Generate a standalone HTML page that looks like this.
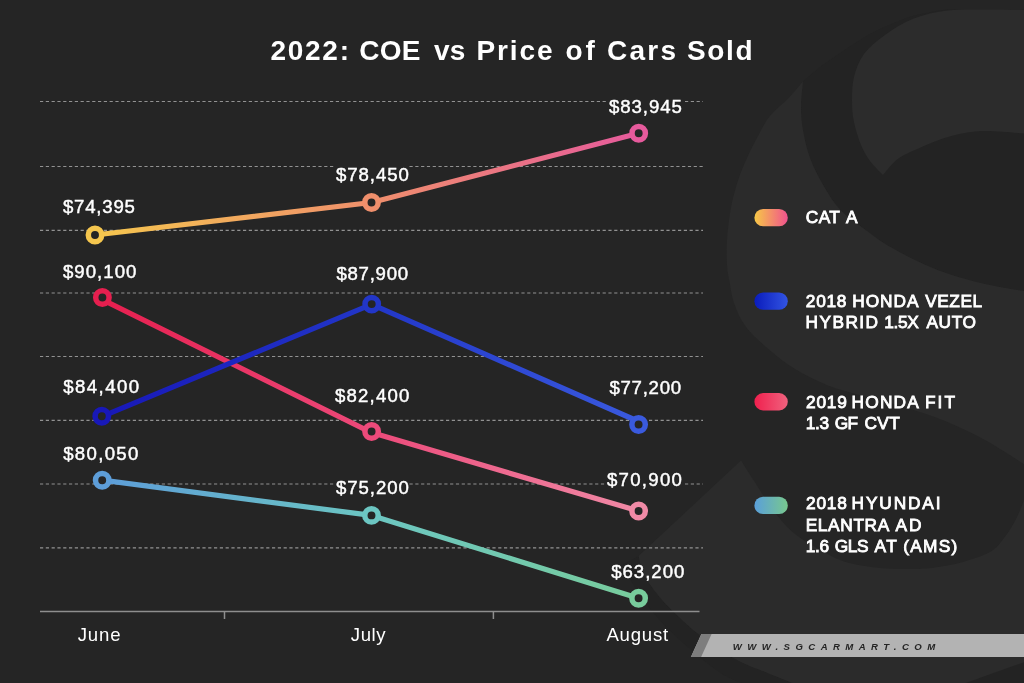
<!DOCTYPE html>
<html lang="en">
<head>
<meta charset="utf-8">
<title>2022: COE vs Price of Cars Sold</title>
<style>
html,body{margin:0;padding:0;background:#252525;}
body{width:1024px;height:683px;overflow:hidden;position:relative;font-family:"Liberation Sans",sans-serif;}
svg{position:absolute;left:0;top:0;display:block;}
text{font-family:"Liberation Sans",sans-serif;fill:#fff;}
.title{font-weight:bold;font-size:28px;}
.val{font-size:18.6px;stroke:#fff;stroke-width:0.45px;}
.ax{font-size:18.6px;}
.lg{font-size:17.3px;stroke:#fff;stroke-width:0.85px;}
.ft{font-style:italic;font-weight:bold;font-size:9.6px;fill:#242424;}
</style>
</head>
<body>
<svg width="1024" height="683" viewBox="0 0 1024 683">
<defs>

<linearGradient id="ga" gradientUnits="userSpaceOnUse" x1="95" y1="0" x2="638.7" y2="0"><stop offset="0" stop-color="#f5c64e"/><stop offset="50.9%" stop-color="#ef8f6c"/><stop offset="1" stop-color="#e65a9c"/></linearGradient>
<linearGradient id="gv" gradientUnits="userSpaceOnUse" x1="101.8" y1="0" x2="638.6" y2="0"><stop offset="0" stop-color="#1818b8"/><stop offset="50.3%" stop-color="#2236c8"/><stop offset="1" stop-color="#3a5ade"/></linearGradient>
<linearGradient id="gf" gradientUnits="userSpaceOnUse" x1="102.4" y1="0" x2="638.6" y2="0"><stop offset="0" stop-color="#e61f4f"/><stop offset="50.2%" stop-color="#ec4a7a"/><stop offset="1" stop-color="#f08aa6"/></linearGradient>
<linearGradient id="ge" gradientUnits="userSpaceOnUse" x1="102.2" y1="0" x2="638.6" y2="0"><stop offset="0" stop-color="#5d9dd8"/><stop offset="50.2%" stop-color="#6cc6c2"/><stop offset="1" stop-color="#78cc9c"/></linearGradient>
<linearGradient id="pa" x1="0" y1="0" x2="1" y2="0"><stop offset="0" stop-color="#f7c846"/><stop offset="1" stop-color="#f0528e"/></linearGradient>
<linearGradient id="pv" x1="0" y1="0" x2="1" y2="0"><stop offset="0" stop-color="#0a1cbc"/><stop offset="1" stop-color="#3254e2"/></linearGradient>
<linearGradient id="pf" x1="0" y1="0" x2="1" y2="0"><stop offset="0" stop-color="#f0204e"/><stop offset="1" stop-color="#f0627e"/></linearGradient>
<linearGradient id="pe" x1="0" y1="0" x2="1" y2="0"><stop offset="0" stop-color="#5a9fda"/><stop offset="1" stop-color="#78c88e"/></linearGradient>
</defs>
<rect width="1024" height="683" fill="#252525"/>
<path d="M803.0,81.5 C805.8,79.1 813.8,71.8 820.0,67.0 C826.2,62.2 833.3,57.5 840.0,53.0 C846.7,48.5 853.3,44.0 860.0,40.0 C866.7,36.0 871.2,33.0 880.0,29.0 C888.8,25.0 901.7,19.3 913.0,16.0 C924.3,12.7 942.2,10.2 948.0,9.0 L1030,9 L1030,292 C1022.5,290.7 999.0,287.2 985.0,284.0 C971.0,280.8 957.7,277.0 946.0,273.0 C934.3,269.0 924.8,264.7 915.0,260.0 C905.2,255.3 895.7,250.3 887.0,245.0 C878.3,239.7 870.8,233.8 863.0,228.0 C855.2,222.2 847.0,216.9 840.5,210.0 C834.0,203.1 829.1,195.2 824.0,186.5 C818.9,177.8 813.5,167.4 810.0,158.0 C806.5,148.6 804.5,138.5 803.0,130.0 C801.5,121.5 801.0,115.1 801.0,107.0 C801.0,98.9 802.7,85.8 803.0,81.5 Z" fill="#232323"/>
<path d="M638.6,556.0 L622.0,565.0 C624.7,569.5 632.2,583.3 638.0,592.0 C643.8,600.7 649.1,608.2 657.0,617.0 C664.9,625.8 674.9,635.7 685.5,645.0 C696.1,654.3 710.9,666.5 720.6,673.0 C730.4,679.5 740.1,682.2 744.0,684.0 L795.0,684.0 C790.4,682.2 776.0,676.4 767.5,673.0 C759.0,669.6 751.9,667.4 744.0,663.6 C736.1,659.8 727.8,655.1 720.0,650.0 C712.2,644.9 703.5,638.2 697.0,633.0 C690.5,627.8 686.8,624.5 681.0,619.0 C675.2,613.5 667.5,606.2 662.0,600.0 C656.5,593.8 651.3,586.6 648.0,581.6 C644.7,576.6 643.6,574.3 642.0,570.0 C640.4,565.7 639.2,558.3 638.6,556.0 Z" fill="#232323"/>
<path d="M1030,645 L963,684 L1030,684 Z" fill="#232323"/>
<path d="M803.0,81.5 C800.7,84.2 794.5,91.8 789.0,97.5 C783.5,103.2 775.1,109.8 770.0,116.0 C764.9,122.2 762.3,128.0 758.5,135.0 C754.7,142.0 750.5,150.2 747.0,158.0 C743.5,165.8 740.2,173.3 737.5,182.0 C734.8,190.7 732.2,200.3 730.5,210.0 C728.8,219.7 727.6,230.8 727.0,240.0 C726.4,249.2 726.6,258.0 727.0,265.0 C727.4,272.0 728.4,275.7 729.6,282.0 C730.8,288.3 731.3,295.5 734.0,303.0 C736.7,310.5 740.1,319.2 746.0,327.0 C751.9,334.8 761.3,343.0 769.5,350.0 C777.7,357.0 785.2,363.1 795.0,369.0 C804.8,374.9 816.7,381.0 828.0,385.5 C839.3,390.0 850.3,392.4 863.0,396.0 C875.7,399.6 890.3,402.8 904.0,407.0 C917.7,411.2 931.5,415.5 945.0,421.0 C958.5,426.5 970.8,432.2 985.0,440.0 C999.2,447.8 1022.5,463.3 1030.0,468.0 L1030.0,292.0 C1022.5,290.7 999.0,287.2 985.0,284.0 C971.0,280.8 957.7,277.0 946.0,273.0 C934.3,269.0 924.8,264.7 915.0,260.0 C905.2,255.3 895.7,250.3 887.0,245.0 C878.3,239.7 870.8,233.8 863.0,228.0 C855.2,222.2 847.0,216.9 840.5,210.0 C834.0,203.1 829.1,195.2 824.0,186.5 C818.9,177.8 813.5,167.4 810.0,158.0 C806.5,148.6 804.5,138.5 803.0,130.0 C801.5,121.5 801.0,115.1 801.0,107.0 C801.0,98.9 802.7,85.8 803.0,81.5 Z" fill="#2b2b2b"/>
<path d="M1030.0,10.0 C1022.5,9.9 998.7,9.4 985.0,9.5 C971.3,9.6 960.0,9.0 948.0,10.5 C936.0,12.0 923.5,14.6 913.0,18.7 C902.5,22.8 893.2,29.1 885.0,35.0 C876.8,40.9 869.2,47.0 864.0,54.0 C858.8,61.0 856.0,69.2 854.0,77.0 C852.0,84.8 852.0,93.5 852.0,101.0 C852.0,108.5 852.5,114.7 854.0,122.0 C855.5,129.3 858.3,138.5 861.0,145.0 C863.7,151.5 866.3,156.0 870.0,161.0 C873.7,166.0 880.8,172.7 883.0,175.0 C885.2,172.5 891.2,164.2 896.5,160.0 C901.8,155.8 906.4,153.8 915.0,150.0 C923.6,146.2 936.7,140.2 948.0,137.0 C959.3,133.8 969.3,131.5 983.0,131.0 C996.7,130.5 1022.2,133.5 1030.0,134.0 Z" fill="#2c2c2c"/>
<path d="M741.0,460.5 L638.6,556.0 C639.2,558.3 640.4,565.7 642.0,570.0 C643.6,574.3 644.7,576.6 648.0,581.6 C651.3,586.6 656.5,593.8 662.0,600.0 C667.5,606.2 675.2,613.5 681.0,619.0 C686.8,624.5 690.5,627.8 697.0,633.0 C703.5,638.2 712.2,644.9 720.0,650.0 C727.8,655.1 736.1,659.8 744.0,663.6 C751.9,667.4 759.0,669.6 767.5,673.0 C776.0,676.4 790.4,682.2 795.0,684.0 L963,684 L1030,660 L1030.0,478.0 C1029.0,481.7 1026.5,492.8 1024.0,500.0 C1021.5,507.2 1018.3,514.7 1015.0,521.0 C1011.7,527.3 1008.2,532.8 1004.0,538.0 C999.8,543.2 997.2,547.9 990.0,552.0 C982.8,556.1 970.2,559.9 961.0,562.5 C951.8,565.1 943.2,566.4 935.0,567.5 C926.8,568.6 921.2,568.9 912.0,569.0 C902.8,569.1 891.3,569.2 880.0,568.0 C868.7,566.8 854.8,565.0 844.0,561.5 C833.2,558.0 823.8,552.1 815.0,547.0 C806.2,541.9 798.5,537.2 791.5,531.0 C784.5,524.8 778.9,517.8 773.0,510.0 C767.1,502.2 761.3,492.2 756.0,484.0 C750.7,475.8 743.5,464.4 741.0,460.5 Z" fill="#2b2b2b"/>
<g stroke="#929292" stroke-width="1.2" stroke-dasharray="3.2 2.6" fill="none">
<path d="M40,101.5 H607.5 M685,101.5 H703"/>
<path d="M40,166.5 H335.5 M409.5,166.5 H703"/>
<path d="M40,230.4 H703"/>
<path d="M40,293.0 H703"/>
<path d="M40,356.5 H703"/>
<path d="M40,420.4 H703"/>
<path d="M40,484.0 H335.5 M409.5,484.0 H605.5 M685,484.0 H703"/>
<path d="M40,547.8 H703"/>
</g>
<g stroke="#8e8e8e" stroke-width="1.5" fill="none"><path d="M40,611.4 H699.5 M224.5,611.4 V619 M493.4,611.4 V619"/></g>
<polyline points="95,235 371.5,202.5 638.7,133.2" fill="none" stroke="url(#ga)" stroke-width="5.2" stroke-linejoin="round"/>
<polyline points="102.3,299.6 371.5,432.6 638.6,511" fill="none" stroke="url(#gf)" stroke-width="5.2" stroke-linejoin="round"/>
<polyline points="101.7,416.6 371.6,304.3 638.6,421.5" fill="none" stroke="url(#gv)" stroke-width="5.2" stroke-linejoin="round"/>
<polyline points="102.2,480.2 371.5,515.4 638.6,598.3" fill="none" stroke="url(#ge)" stroke-width="5.2" stroke-linejoin="round"/>
<circle cx="95" cy="235" r="6.7" fill="#252525" stroke="#f5c64e" stroke-width="5.5"/>
<circle cx="371.5" cy="202.5" r="6.7" fill="#252525" stroke="#ef8f6c" stroke-width="5.5"/>
<circle cx="638.7" cy="133.2" r="6.7" fill="#252525" stroke="#e65a9c" stroke-width="5.5"/>
<circle cx="101.8" cy="416.2" r="6.7" fill="#252525" stroke="#1818b8" stroke-width="5.5"/>
<circle cx="371.7" cy="304.1" r="6.7" fill="#252525" stroke="#2236c8" stroke-width="5.5"/>
<circle cx="638.6" cy="424.5" r="6.7" fill="#252525" stroke="#3a5ade" stroke-width="5.5"/>
<circle cx="102.4" cy="297.5" r="6.7" fill="#252525" stroke="#e61f4f" stroke-width="5.5"/>
<circle cx="371.6" cy="431.5" r="6.7" fill="#252525" stroke="#ec4a7a" stroke-width="5.5"/>
<circle cx="638.6" cy="511" r="6.7" fill="#252525" stroke="#f08aa6" stroke-width="5.5"/>
<circle cx="102.2" cy="480.2" r="6.7" fill="#252525" stroke="#5d9dd8" stroke-width="5.5"/>
<circle cx="371.5" cy="515.4" r="6.7" fill="#252525" stroke="#6cc6c2" stroke-width="5.5"/>
<circle cx="638.6" cy="598.3" r="6.7" fill="#252525" stroke="#78cc9c" stroke-width="5.5"/>
<rect x="754.4" y="209.0" width="33.4" height="17.3" rx="8.65" fill="url(#pa)"/>
<rect x="754.4" y="292.5" width="33.4" height="17.3" rx="8.65" fill="url(#pv)"/>
<rect x="754.4" y="393.1" width="33.4" height="17.3" rx="8.65" fill="url(#pf)"/>
<rect x="754.4" y="496.8" width="33.4" height="17.3" rx="8.65" fill="url(#pe)"/>
<polygon points="701.4,634 1024,634 1024,657 690.9,657" fill="#b3b3b3"/>
<polygon points="701.4,634 711.6,634 701.1,657 690.9,657" fill="#7e7e7e"/>
<text class="title" y="59.90"><tspan x="270.40" style="letter-spacing:1.738px">2022:</tspan> <tspan x="359.21" style="letter-spacing:0.235px">COE</tspan> <tspan x="433.88" style="letter-spacing:0.178px">vs</tspan> <tspan x="476.40" style="letter-spacing:1.947px">Price</tspan> <tspan x="565.44" style="letter-spacing:3.037px">of</tspan> <tspan x="606.91" style="letter-spacing:2.262px">Cars</tspan> <tspan x="686.94" style="letter-spacing:1.691px">Sold</tspan></text>
<text class="val" x="62.90" y="212.70" style="letter-spacing:0.795px">$74,395</text>
<text class="val" x="335.90" y="180.70" style="letter-spacing:0.958px">$78,450</text>
<text class="val" x="608.90" y="112.50" style="letter-spacing:0.961px">$83,945</text>
<text class="val" x="62.90" y="277.70" style="letter-spacing:1.041px">$90,100</text>
<text class="val" x="336.40" y="280.20" style="letter-spacing:0.749px">$87,900</text>
<text class="val" x="609.40" y="393.70" style="letter-spacing:0.749px">$77,200</text>
<text class="val" x="63.15" y="393.00" style="letter-spacing:1.458px">$84,400</text>
<text class="val" x="334.90" y="401.70" style="letter-spacing:1.208px">$82,400</text>
<text class="val" x="606.90" y="485.70" style="letter-spacing:1.291px">$70,900</text>
<text class="val" x="63.15" y="459.50" style="letter-spacing:1.333px">$80,050</text>
<text class="val" x="335.90" y="494.20" style="letter-spacing:0.958px">$75,200</text>
<text class="val" x="611.15" y="577.70" style="letter-spacing:0.999px">$63,200</text>
<text class="ax" x="77.76" y="641.30" style="letter-spacing:0.827px">June</text>
<text class="ax" x="350.76" y="641.30" style="letter-spacing:0.601px">July</text>
<text class="ax" x="606.40" y="641.30" style="letter-spacing:0.799px">August</text>
<text class="lg" y="222.70"><tspan x="805.80" style="letter-spacing:0.351px">CAT</tspan> <tspan x="845.99" style="letter-spacing:0.000px">A</tspan></text>
<text class="lg" y="306.80"><tspan x="805.84" style="letter-spacing:0.729px">2018</tspan> <tspan x="852.24" style="letter-spacing:0.960px">HONDA</tspan> <tspan x="925.24" style="letter-spacing:0.523px">VEZEL</tspan></text>
<text class="lg" y="327.60"><tspan x="805.49" style="letter-spacing:1.464px">HYBRID</tspan> <tspan x="884.24" style="letter-spacing:-0.323px">1.5X</tspan> <tspan x="926.49" style="letter-spacing:0.595px">AUTO</tspan></text>
<text class="lg" y="407.60"><tspan x="806.04" style="letter-spacing:0.764px">2019</tspan> <tspan x="851.59" style="letter-spacing:1.198px">HONDA</tspan> <tspan x="924.99" style="letter-spacing:2.025px">FIT</tspan></text>
<text class="lg" y="428.80"><tspan x="805.69" style="letter-spacing:-0.310px">1.3</tspan> <tspan x="834.80" style="letter-spacing:-0.749px">GF</tspan> <tspan x="864.50" style="letter-spacing:0.322px">CVT</tspan></text>
<text class="lg" y="508.60"><tspan x="806.04" style="letter-spacing:0.763px">2018</tspan> <tspan x="851.59" style="letter-spacing:1.856px">HYUNDAI</tspan></text>
<text class="lg" y="530.70"><tspan x="805.69" style="letter-spacing:0.637px">ELANTRA</tspan> <tspan x="895.59" style="letter-spacing:1.790px">AD</tspan></text>
<text class="lg" y="552.00"><tspan x="805.69" style="letter-spacing:-0.304px">1.6</tspan> <tspan x="834.80" style="letter-spacing:-0.387px">GLS</tspan> <tspan x="874.49" style="letter-spacing:1.547px">AT</tspan> <tspan x="903.28" style="letter-spacing:1.234px">(AMS)</tspan></text>
<text class="ft" x="732.80" y="649.80" style="letter-spacing:5.418px">WWW.SGCARMART.COM</text>
</svg>
</body>
</html>
